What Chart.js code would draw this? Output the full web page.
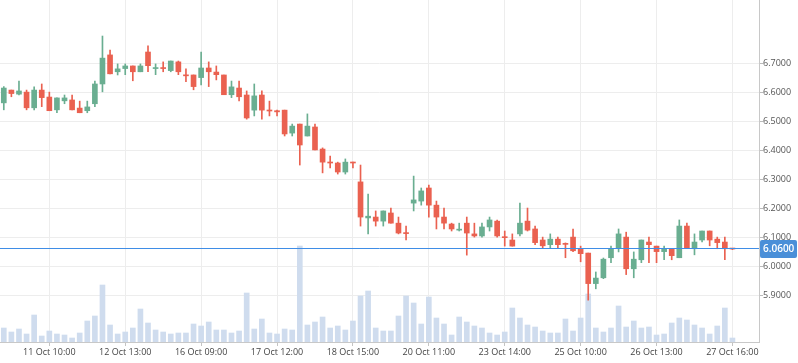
<!DOCTYPE html>
<html>
<head>
<meta charset="utf-8">
<script src="https://cdn.jsdelivr.net/npm/chart.js@4.4.1/dist/chart.umd.min.js"></script>
<style>
html, body { margin: 0; padding: 0; background: #fff; }
#wrap { width: 798px; height: 363px; }
</style>
</head>
<body>
<div id="wrap"><canvas id="priceChart"></canvas></div>
<script>
// one candle per entry, left to right
var opens = [
  6.563, 6.607, 6.593, 6.600, 6.546, 6.607, 6.583, 6.539, 6.570, 6.573,
  6.545, 6.536, 6.560, 6.628, 6.728, 6.670, 6.681, 6.690, 6.670, 6.738,
  6.681, 6.683, 6.674, 6.704, 6.659, 6.659, 6.650, 6.683, 6.669, 6.659,
  6.591, 6.614, 6.590, 6.538, 6.590, 6.537, 6.536, 6.538, 6.459, 6.490,
  6.449, 6.480, 6.404, 6.358, 6.356, 6.325, 6.359, 6.291, 6.167, 6.170,
  6.156, 6.184, 6.149, 6.115, 6.218, 6.225, 6.270, 6.211, 6.170, 6.146,
  6.125, 6.149, 6.112, 6.105, 6.136, 6.156, 6.101, 6.091, 6.112, 6.156,
  6.129, 6.091, 6.075, 6.094, 6.078, 6.101, 6.060, 6.046, 5.941, 5.961,
  6.030, 6.063, 6.101, 5.992, 6.023, 6.084, 6.070, 6.051, 6.060, 6.030,
  6.139, 6.061, 6.091, 6.122, 6.094, 6.084, 6.062
];
var highs = [
  6.619, 6.607, 6.638, 6.607, 6.618, 6.628, 6.600, 6.580, 6.590, 6.590,
  6.569, 6.569, 6.638, 6.793, 6.745, 6.697, 6.697, 6.690, 6.697, 6.759,
  6.697, 6.704, 6.707, 6.707, 6.680, 6.659, 6.738, 6.704, 6.690, 6.659,
  6.638, 6.638, 6.604, 6.628, 6.604, 6.569, 6.538, 6.538, 6.490, 6.490,
  6.525, 6.490, 6.408, 6.380, 6.359, 6.370, 6.359, 6.349, 6.249, 6.191,
  6.191, 6.201, 6.170, 6.139, 6.311, 6.270, 6.280, 6.225, 6.201, 6.149,
  6.149, 6.170, 6.149, 6.149, 6.170, 6.160, 6.122, 6.112, 6.218, 6.201,
  6.139, 6.101, 6.112, 6.101, 6.081, 6.129, 6.070, 6.046, 5.981, 6.029,
  6.070, 6.129, 6.118, 6.050, 6.091, 6.101, 6.070, 6.070, 6.060, 6.160,
  6.149, 6.112, 6.122, 6.122, 6.101, 6.101, 6.062
];
var lows = [
  6.539, 6.584, 6.590, 6.539, 6.539, 6.550, 6.536, 6.529, 6.560, 6.539,
  6.529, 6.529, 6.550, 6.601, 6.663, 6.659, 6.660, 6.639, 6.670, 6.670,
  6.660, 6.670, 6.670, 6.660, 6.636, 6.608, 6.625, 6.619, 6.642, 6.591,
  6.581, 6.570, 6.507, 6.518, 6.507, 6.518, 6.518, 6.449, 6.449, 6.349,
  6.449, 6.401, 6.322, 6.339, 6.318, 6.318, 6.339, 6.139, 6.112, 6.139,
  6.139, 6.149, 6.112, 6.091, 6.191, 6.211, 6.170, 6.129, 6.129, 6.122,
  6.122, 6.039, 6.101, 6.101, 6.122, 6.101, 6.070, 6.070, 6.105, 6.122,
  6.075, 6.064, 6.064, 6.061, 6.030, 6.051, 6.016, 5.884, 5.923, 5.958,
  6.013, 6.050, 5.972, 5.961, 6.013, 6.013, 6.013, 6.023, 6.023, 6.030,
  6.061, 6.040, 6.084, 6.071, 6.061, 6.023, 6.058
];
var closes = [
  6.614, 6.595, 6.604, 6.546, 6.607, 6.581, 6.536, 6.580, 6.580, 6.539,
  6.529, 6.549, 6.628, 6.717, 6.663, 6.680, 6.690, 6.670, 6.690, 6.691,
  6.683, 6.681, 6.707, 6.670, 6.656, 6.619, 6.683, 6.670, 6.660, 6.591,
  6.618, 6.584, 6.511, 6.587, 6.538, 6.535, 6.532, 6.456, 6.483, 6.418,
  6.483, 6.401, 6.359, 6.356, 6.325, 6.359, 6.356, 6.170, 6.173, 6.156,
  6.191, 6.149, 6.115, 6.113, 6.229, 6.260, 6.211, 6.170, 6.149, 6.129,
  6.128, 6.115, 6.105, 6.136, 6.160, 6.105, 6.099, 6.070, 6.149, 6.125,
  6.082, 6.071, 6.094, 6.075, 6.076, 6.054, 6.044, 5.941, 5.960, 6.025,
  6.060, 6.112, 5.992, 6.025, 6.091, 6.075, 6.051, 6.060, 6.037, 6.139,
  6.064, 6.084, 6.122, 6.091, 6.082, 6.061, 6.060
];
var volumes = [
  140, 100, 130, 80, 270, 60, 110, 80, 70, 40,
  90, 210, 260, 570, 170, 80, 100, 140, 330, 190,
  120, 100, 80, 90, 90, 180, 160, 200, 120, 120,
  90, 110, 490, 130, 230, 90, 80, 130, 120, 960,
  170, 200, 250, 140, 160, 120, 210, 460, 510, 140,
  110, 110, 260, 460, 390, 180, 450, 240, 180, 70,
  250, 200, 160, 140, 90, 70, 100, 340, 240, 170,
  150, 110, 90, 90, 230, 110, 240, 480, 140, 100,
  140, 360, 150, 210, 140, 150, 70, 80, 190, 240,
  220, 170, 140, 80, 160, 340, 40
];
// a date label every 10 candles, starting at candle 6
var tickLabels = ["11 Oct 10:00", "12 Oct 13:00", "16 Oct 09:00", "17 Oct 12:00", "18 Oct 15:00",
  "20 Oct 11:00", "23 Oct 14:00", "25 Oct 10:00", "26 Oct 13:00", "27 Oct 16:00"];
var firstTick = 6;
var tickEvery = 10;
var lastPrice = 6.06;

var upColor = '#6aae91';
var downColor = '#ea6150';
var font = { family: "'Open Sans', sans-serif", size: 9 };

// 3 empty slots on the right, like the original
var labels = [];
for (var i = 0; i < opens.length + 3; i++) labels.push(String(i));

function isTick(i) {
  return i >= firstTick && (i - firstTick) % tickEvery === 0 && (i - firstTick) / tickEvery < tickLabels.length;
}
function candleColor(ctx) {
  var i = ctx.dataIndex;
  return closes[i] >= opens[i] ? upColor : downColor;
}

var priceLine = {
  id: 'priceLine',
  afterDatasetsDraw: function(chart) {
    var ca = chart.chartArea, c = chart.ctx;
    var y = Math.floor(chart.scales.y.getPixelForValue(lastPrice)) - 0.5;
    c.save();
    c.strokeStyle = '#3f8de6';
    c.lineWidth = 1;
    c.beginPath();
    c.moveTo(ca.left, y);
    c.lineTo(ca.right, y);
    c.stroke();
    c.restore();
  },
  afterDraw: function(chart) {
    var ca = chart.chartArea, c = chart.ctx;
    var y = Math.floor(chart.scales.y.getPixelForValue(lastPrice));
    c.save();
    c.fillStyle = '#4a8fd8';
    c.beginPath();
    c.roundRect(ca.right + 1, y - 9, chart.width - ca.right - 2, 18, 2);
    c.fill();
    c.fillStyle = '#fff';
    c.font = "600 10px 'Open Sans', sans-serif";
    c.textBaseline = 'middle';
    c.fillText(lastPrice.toFixed(4), ca.right + 4, y);
    c.restore();
  }
};

var ctx = document.getElementById('priceChart').getContext('2d');
var priceChart = new Chart(ctx, {
  type: 'bar',
  data: {
    labels: labels,
    datasets: [{
      label: 'body',
      data: opens.map(function(o, i) { return [o, closes[i]]; }),
      backgroundColor: candleColor,
      barThickness: 5,
      minBarLength: 1,
      grouped: false,
      yAxisID: 'y',
      order: 1
    }, {
      label: 'wick',
      data: lows.map(function(l, i) { return [l, highs[i]]; }),
      backgroundColor: candleColor,
      barThickness: 1,
      grouped: false,
      yAxisID: 'y',
      order: 2
    }, {
      label: 'volume',
      data: volumes,
      backgroundColor: '#cfdcee',
      barThickness: 5,
      grouped: false,
      yAxisID: 'yVol',
      order: 3
    }]
  },
  options: {
    responsive: true,
    maintainAspectRatio: false,
    animation: false,
    layout: { padding: 0 },
    plugins: {
      legend: { display: false },
      tooltip: { enabled: false }
    },
    scales: {
      x: {
        type: 'category',
        offset: true,
        grid: {
          offset: false,
          tickLength: 4,
          color: function(c) { return isTick(c.index) ? '#ededed' : 'rgba(0,0,0,0)'; },
          tickColor: function(c) { return isTick(c.index) ? '#c4c4c4' : 'rgba(0,0,0,0)'; }
        },
        border: { color: '#c8c8c8' },
        ticks: {
          autoSkip: false,
          maxRotation: 0,
          padding: 1,
          color: '#444',
          font: font,
          callback: function(v, i) {
            return isTick(i) ? tickLabels[(i - firstTick) / tickEvery] : '';
          }
        },
        afterFit: function(s) { s.height = 21; s.paddingLeft = 0; s.paddingRight = 0; }
      },
      y: {
        position: 'right',
        min: 5.74,
        max: 6.917,
        ticks: {
          stepSize: 0.1,
          padding: 0,
          color: '#555',
          font: font,
          callback: function(v) { return Number(v).toFixed(4); }
        },
        afterBuildTicks: function(s) {
          s.ticks = s.ticks.filter(function(t) { return t.value > 5.85 && t.value < 6.75; });
        },
        grid: { color: '#ededed', tickColor: '#bbb', tickLength: 4 },
        border: { color: '#c8c8c8' },
        afterFit: function(s) { s.width = 39; s.paddingTop = 0; s.paddingBottom = 0; }
      },
      yVol: {
        display: false,
        min: 0,
        max: 3420
      }
    }
  },
  plugins: [priceLine]
});
</script>
</body>
</html>
